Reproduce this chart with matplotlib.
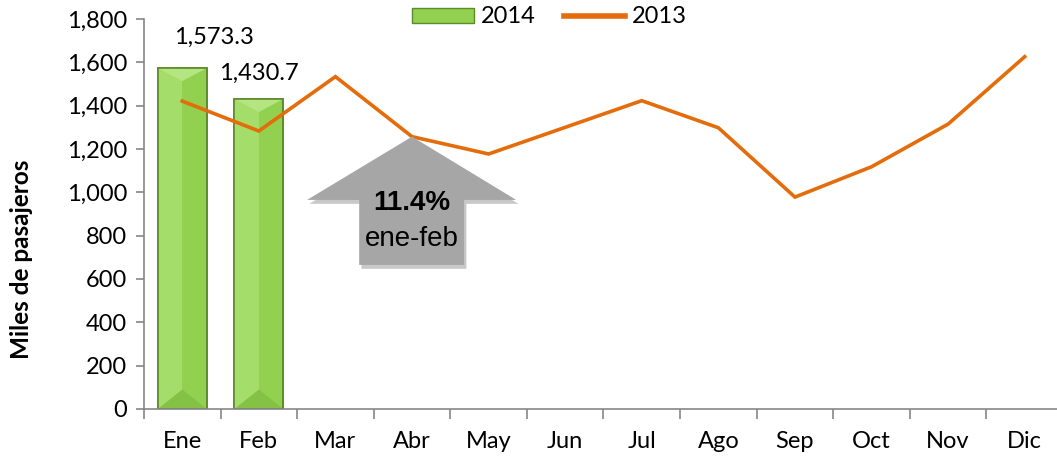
import matplotlib.pyplot as plt
import numpy as np
from matplotlib.patches import Polygon, Rectangle
from matplotlib.lines import Line2D
from matplotlib.ticker import FuncFormatter

months = ["Ene", "Feb", "Mar", "Abr", "May", "Jun", "Jul", "Ago", "Sep", "Oct", "Nov", "Dic"]
pax_2014 = [1573.3, 1430.7]
pax_2013 = [1421, 1283, 1534, 1257, 1177, 1300, 1423, 1298, 978, 1118, 1315, 1626]
growth_label = "11.4%"
growth_period = "ene-feb"


def main():
    plt.rcParams["font.family"] = ["Lato", "DejaVu Sans"]
    fig = plt.figure(figsize=(10.57, 4.58), dpi=100)
    ax = fig.add_axes([0.1362, 0.107, 0.8695, 0.8515])

    x = np.arange(len(months))
    bars = ax.bar(x[:len(pax_2014)], pax_2014, width=0.64, color="#92d050",
                  edgecolor="#5e8a2e", linewidth=1.2, zorder=2)
    # bevel look on the bars
    for b in bars:
        x0, w, h = b.get_x(), b.get_width(), b.get_height()
        ax.add_patch(Rectangle((x0, 0), w / 2, h, color="#a5dd6a", zorder=2.1, lw=0))
        ax.add_patch(Polygon([(x0, h), (x0 + w, h), (x0 + w / 2, h - 60)],
                             color="#b4e581", zorder=2.2, lw=0))
        ax.add_patch(Polygon([(x0, 0), (x0 + w, 0), (x0 + w / 2, 90)],
                             color="#84c245", zorder=2.2, lw=0))
        ax.add_patch(Rectangle((x0, 0), w, h, fill=False, ec="#5e8a2e", lw=1.2, zorder=2.3))

    ax.plot(x, pax_2013, color="#e46c0a", lw=2.6, solid_joinstyle="miter", zorder=3)

    ax.text(0.42, pax_2014[0] + 140, "{:,.1f}".format(pax_2014[0]), ha="center",
            va="center", fontsize=17)
    ax.text(1, pax_2014[1] + 120, "{:,.1f}".format(pax_2014[1]), ha="center",
            va="center", fontsize=17)

    # growth arrow pointing at Abr
    tip = (3, pax_2013[3])
    arrow = [(tip[0], tip[1]), (4.36, 965), (3.68, 965), (3.68, 665),
             (2.31, 665), (2.31, 965), (1.63, 965)]
    shadow = [(px + 0.03, py - 18) for px, py in arrow]
    ax.add_patch(Polygon(shadow, closed=True, color="#c8c8c8", lw=0, zorder=3.5))
    ax.add_patch(Polygon(arrow, closed=True, color="#a6a6a6", lw=0, zorder=4))
    ax.text(3, 950, growth_label, ha="center", va="center", fontsize=20,
            fontweight="bold", family="Liberation Sans", zorder=5)
    ax.text(3, 785, growth_period, ha="center", va="center", fontsize=20,
            family="Liberation Sans", zorder=5)

    ax.set_xlim(-0.5, len(months) - 0.5)
    ax.set_ylim(0, 1800)
    ax.set_yticks(np.arange(0, 1801, 200))
    ax.yaxis.set_major_formatter(FuncFormatter(lambda v, p: "{:,.0f}".format(v)))
    ax.set_xticks(x)
    ax.set_xticklabels(months)
    ax.set_xticks(np.arange(-0.5, len(months), 1), minor=True)
    ax.tick_params(axis="x", which="major", length=0, pad=16, labelsize=17)
    ax.tick_params(axis="x", which="minor", length=7, color="#868686", width=1.2)
    ax.tick_params(axis="y", length=6, color="#868686", width=1.2, labelsize=17, pad=6)
    for s in ["top", "right"]:
        ax.spines[s].set_visible(False)
    for s in ["left", "bottom"]:
        ax.spines[s].set_color("#868686")
        ax.spines[s].set_linewidth(1.2)
    ax.set_ylabel("Miles de pasajeros", fontsize=17.5, fontweight="bold")
    ax.yaxis.set_label_coords(-0.121, 0.385)

    handles = [Rectangle((0, 0), 1, 1, fc="#92d050", ec="#5e8a2e"),
               Line2D([0], [0], color="#e46c0a", lw=4)]
    fig.legend(handles, ["2014", "2013"], loc="center", bbox_to_anchor=(0.52, 0.963),
               ncol=2, frameon=False, fontsize=17, handlelength=2.6, handleheight=0.6,
               handletextpad=0.3, columnspacing=1.2)

    fig.savefig("out.png", dpi=100)


if __name__ == "__main__":
    main()
